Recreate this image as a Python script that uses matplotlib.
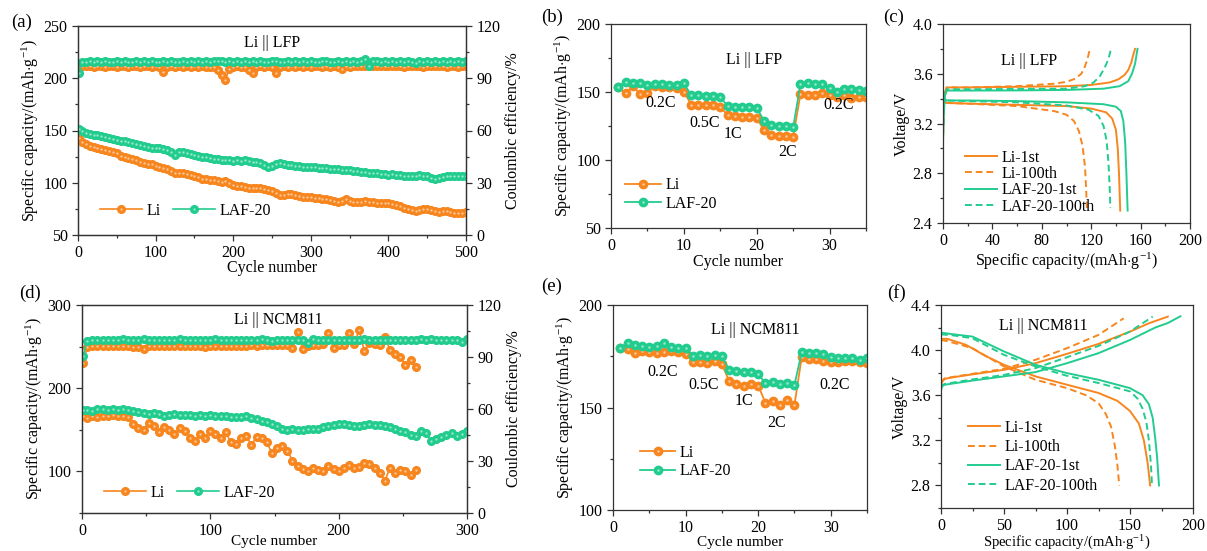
import numpy as np
import matplotlib
matplotlib.use("Agg")
import matplotlib.pyplot as plt
from matplotlib.ticker import MultipleLocator
from matplotlib.legend_handler import HandlerTuple

plt.rcParams['font.family'] = ['Liberation Serif', 'DejaVu Serif']
plt.rcParams['mathtext.fontset'] = 'custom'
plt.rcParams['mathtext.rm'] = 'Liberation Serif'
plt.rcParams['mathtext.it'] = 'Liberation Serif:italic'
plt.rcParams['font.size'] = 11

ORANGE = '#F7861F'
GREEN = '#22CC8F'

# ===== (a) Li || LFP long cycling, every 5 cycles =====
li_cap_a = [143, 139, 137, 135, 134, 133, 132.5, 131, 130, 129, 128, 126, 125, 124, 122.5, 121.5, 120, 119, 118, 117.5, 116,
            115, 114, 113, 111, 109.5, 109, 109, 108, 107, 106, 105.5, 104, 103.5, 103, 102.5, 101.5, 101, 102, 99.5, 98,
            97, 96.5, 95.5, 95, 95, 94.5, 94.5, 94, 93.5, 92, 90, 88, 88.5, 89, 89, 88, 87, 86.5, 86, 86,
            85, 85, 84, 84, 83.5, 83, 82, 83, 84, 83, 82, 81.5, 82, 83, 82, 81.5, 81, 81, 81, 80.5,
            80, 79, 78, 76, 74.5, 73.5, 73, 73.5, 74.5, 75, 74, 73, 72, 72.5, 72.5, 72, 71.5, 71, 71, 72]
laf_cap_a = [151, 149.5, 148, 147, 146, 145.5, 145, 144, 143, 142, 141, 140, 139.5, 139, 138, 137, 136.5, 135, 134, 133.5, 133,
             133, 132.5, 131, 129, 127, 129, 129.5, 128, 127.5, 127, 126, 125, 124.5, 124, 123, 122.5, 122, 122, 121.5, 121,
             121.5, 121, 121.5, 120.5, 120, 119.5, 118.5, 117, 115.5, 116, 117.5, 118.5, 118, 117, 117, 116.5, 116, 115.5, 115.5, 115,
             115, 114.5, 114, 114, 113.5, 113, 113, 112.5, 112.5, 112, 111.5, 111, 110.5, 110, 109, 109.5, 109, 108.5, 108, 107.5,
             108, 107.5, 107, 106.5, 106.5, 106, 106.5, 107, 106.5, 106, 105, 104, 104.5, 105.5, 106, 106, 106, 106.5, 106, 106]
li_ce_a = [96.0,
           96.8, 97.0, 96.9, 96.7, 96.8, 97.0, 96.6, 96.9, 96.8, 96.5, 96.8, 97.0, 96.7, 96.9, 96.8, 96.6, 96.9, 96.8, 96.7, 96.9,
           96.6, 93.5, 96.5, 96.8, 96.7, 96.9, 96.6, 96.8, 96.7, 96.9, 96.5, 96.8, 96.7, 96.6, 96.4, 95.0, 92.0, 89.0, 95.5, 96.6,
           96.8, 96.7, 96.5, 95.0, 93.0, 96.5, 96.8, 96.7, 96.9, 96.6, 93.2, 96.7, 96.9, 96.6, 96.8, 96.7, 96.9, 96.6, 96.8, 96.7,
           96.8, 96.9, 96.6, 96.8, 96.7, 96.9, 96.7, 95.5, 96.8, 96.7, 96.9, 96.8, 97.0, 96.8, 96.9, 97.0, 96.8, 96.9, 97.1, 96.9,
           96.8, 97.0, 96.9, 96.7, 96.8, 97.0, 96.8, 96.9, 96.6, 96.8, 96.9, 97.0, 96.8, 96.9, 96.7, 96.8, 96.9, 96.5, 96.8, 97.2]
laf_ce_a = [92.8,
            99.4, 99.6, 99.8, 99.5, 99.7, 99.6, 99.8, 99.5, 99.6, 99.7, 99.4, 99.8, 99.6, 99.5, 99.7, 99.6, 99.8, 99.5, 99.7, 99.6,
            99.5, 99.7, 99.6, 99.8, 99.4, 99.6, 99.7, 99.5, 99.8, 99.6, 99.7, 99.5, 99.9, 99.6, 99.7, 99.8, 100.1, 99.6, 99.8, 99.5,
            99.7, 99.6, 99.8, 99.5, 99.7, 99.6, 99.8, 99.6, 99.5, 99.7, 99.8, 99.6, 99.5, 99.7, 99.6, 99.8, 99.5, 99.7, 99.6, 99.8,
            99.6, 99.5, 99.7, 99.8, 99.6, 99.5, 99.7, 99.6, 99.8, 99.5, 99.7, 99.6, 99.8, 101.3, 96.8, 99.7, 99.8, 99.6, 99.7, 99.5,
            99.7, 99.6, 99.8, 99.5, 99.7, 99.6, 98.6, 99.8, 99.6, 99.7, 99.5, 99.8, 99.6, 99.7, 99.5, 99.8, 99.6, 99.7, 99.5, 99.9]

# ===== (d) Li || NCM811 long cycling, every 4 cycles =====
li_cap_d = [167, 164, 166, 165, 167, 166, 168, 167, 166, 165,
            157, 152, 150, 158, 155, 147, 153, 150, 145, 152,
            148, 140, 136, 145, 140, 148, 145, 140, 147, 135,
            133, 140, 142, 132, 141, 140, 135, 122, 128, 130,
            125, 113, 106, 103, 101, 104, 102, 100, 106, 103,
            100, 104, 108, 104, 105, 110, 109, 104, 98, 89,
            104, 98, 102, 100, 96, 102]
laf_cap_d = [173.5, 174, 173, 174.5, 175, 174, 175, 174, 174.5, 173.5,
             172.5, 171, 170, 169.5, 170, 169, 167, 168, 169, 168,
             168, 167.5, 167, 168, 167, 167.5, 166.5, 167, 166, 165.5,
             165, 165.5, 166, 164.5, 163, 161, 159, 157, 154, 151,
             150, 151.5, 149.5, 150, 151, 151.5, 151, 153, 155, 156,
             157, 157.5, 156, 155, 154.5, 156, 156.5, 156, 155.5, 155,
             153, 151, 149, 147, 144, 143, 149, 146, 137, 139,
             141, 144, 146, 143, 145, 148]
li_ce_d = [86.5, 96.0, 96.3, 96.5, 96.2, 96.4, 96.1, 96.3, 96.5, 96.2,
           96.0, 95.5, 94.8, 96.3, 96.1, 96.4, 96.2, 96.5, 96.3, 96.1,
           96.4, 96.2, 96.5, 96.3, 96.0, 96.4, 96.2, 96.5, 96.3, 96.1,
           96.4, 96.6, 96.3, 96.8, 96.5, 97.0, 96.8, 97.2, 96.9, 97.1,
           97.0, 95.0, 104.5, 94.5, 96.5, 97.0, 96.8, 97.5, 104.0, 95.0,
           97.2, 96.8, 104.0, 97.5, 105.6, 93.4, 98.0, 97.5, 97.2, 101.5,
           94.0, 91.5, 90.0, 85.5, 88.0, 84.0]
laf_ce_d = [90.7, 99.5, 99.8, 100.0, 99.7, 99.9, 99.6, 99.8, 100.1, 99.7,
            99.9, 99.6, 100.2, 99.8, 99.7, 100.0, 99.6, 99.9, 99.8, 100.1,
            99.7, 99.9, 99.6, 100.0, 99.8, 99.7, 100.1, 99.8, 99.6, 99.9,
            99.8, 100.0, 99.7, 99.9, 99.6, 100.1, 99.8, 99.5, 99.9, 99.7,
            99.8, 99.6, 100.0, 99.7, 98.0, 100.2, 99.8, 99.6, 99.9, 99.7,
            99.9, 99.7, 100.0, 99.8, 99.6, 100.1, 99.8, 99.7, 99.9, 100.0,
            99.8, 99.6, 100.0, 99.7, 99.9, 99.8, 100.1, 99.6, 100.2, 99.8,
            99.7, 100.0, 99.8, 99.6, 98.5, 100.5]

# ===== (b)/(e) rate capability, cycles 1-35 =====
rate_cycles = np.arange(1, 36)
li_rate_b = [153.4, 148.9, 154.3, 148.4, 149.4, 154.3, 153.8, 153.4, 152.6, 150.2,
             140.8, 140.8, 140.3, 140.3, 139.1, 133.0, 132.2, 131.7, 131.3, 131.0,
             121.9, 118.7, 117.8, 117.5, 117.0, 148.4, 147.7, 147.7, 149.4, 147.7,
             146.5, 147.7, 145.3, 146.0, 146.0]
laf_rate_b = [153.8, 157.5, 156.3, 156.3, 155.0, 155.6, 155.8, 155.3, 154.8, 156.3,
              147.7, 147.7, 147.2, 147.0, 146.5, 139.6, 139.1, 139.1, 139.1, 138.6,
              128.8, 125.4, 124.9, 124.9, 123.9, 155.8, 156.3, 155.6, 155.6, 153.1,
              150.2, 151.9, 151.9, 151.4, 150.9]
li_rate_e = [178.9, 178.4, 176.7, 177.6, 177.2, 176.4, 177.2, 177.6, 176.9, 176.1,
             172.4, 172.4, 171.5, 172.8, 171.2, 162.9, 161.3, 160.7, 161.5, 160.7,
             152.4, 153.2, 151.2, 153.7, 151.2, 174.5, 173.5, 173.5, 172.7, 172.4,
             172.1, 172.7, 172.7, 172.1, 171.5]
laf_rate_e = [179.2, 181.6, 180.5, 180.0, 179.7, 180.2, 181.3, 179.3, 178.9, 179.2,
              175.3, 175.6, 175.3, 175.6, 175.1, 168.3, 168.0, 167.5, 167.2, 166.3,
              161.8, 162.3, 161.5, 162.1, 161.0, 176.9, 176.7, 176.7, 176.1, 174.8,
              174.0, 174.3, 174.0, 173.2, 174.3]
rate_labels = ['0.2C', '0.5C', '1C', '2C', '0.2C']
rate_label_x_b = [6.8, 12.9, 16.8, 24.2, 31.2]
rate_label_y_b = [142.0, 127.2, 119.0, 106.0, 140.3]
rate_label_x_e = [6.8, 12.5, 18.1, 22.6, 30.6]
rate_label_y_e = [167.5, 161.0, 153.2, 142.3, 161.0]

# ===== (c) Li || LFP voltage profiles =====
c_curves = {
    'Li-1st': [([0, 0.5, 1.5, 3, 20, 60, 100, 120, 135, 142, 147, 150, 152.5, 154, 155.5],
                [3.08, 3.30, 3.45, 3.49, 3.49, 3.495, 3.50, 3.51, 3.53, 3.555, 3.59, 3.63, 3.69, 3.75, 3.80]),
               ([0, 1, 3, 20, 60, 100, 120, 132, 137, 140, 141.5, 142.5, 143.5],
                [3.45, 3.38, 3.365, 3.36, 3.35, 3.34, 3.32, 3.29, 3.24, 3.15, 3.00, 2.80, 2.50])],
    'Li-100th': [([0, 1, 3, 20, 60, 90, 100, 107, 112, 115, 117, 119],
                  [3.10, 3.40, 3.49, 3.49, 3.50, 3.52, 3.535, 3.56, 3.60, 3.66, 3.72, 3.80]),
                 ([0, 1, 3, 20, 60, 90, 100, 106, 110, 113, 115, 116, 116.5],
                  [3.45, 3.38, 3.365, 3.36, 3.34, 3.30, 3.27, 3.22, 3.14, 3.02, 2.85, 2.65, 2.52])],
    'LAF-20-1st': [([0, 0.5, 1.5, 3, 20, 60, 100, 130, 143, 150, 153, 155.5, 157.5],
                    [3.05, 3.25, 3.42, 3.465, 3.465, 3.466, 3.47, 3.48, 3.50, 3.54, 3.60, 3.68, 3.80]),
                   ([0, 1, 3, 20, 60, 100, 130, 140, 144, 146, 147.5, 148.5, 149.5],
                    [3.45, 3.40, 3.385, 3.385, 3.38, 3.37, 3.355, 3.335, 3.30, 3.22, 3.05, 2.80, 2.50])],
    'LAF-20-100th': [([0, 1, 3, 20, 60, 100, 115, 122, 127, 131, 134, 136],
                      [3.10, 3.40, 3.475, 3.475, 3.478, 3.48, 3.50, 3.53, 3.58, 3.65, 3.72, 3.80]),
                     ([0, 1, 3, 20, 60, 100, 118, 126, 130, 132.5, 134, 135, 135.5],
                      [3.45, 3.40, 3.385, 3.38, 3.37, 3.345, 3.31, 3.26, 3.18, 3.06, 2.88, 2.68, 2.52])],
}

# ===== (f) Li || NCM811 voltage profiles =====
f_curves = {
    'Li-1st': [([0, 1, 3, 10, 25, 50, 75, 100, 125, 150, 165, 180],
                [3.69, 3.72, 3.745, 3.76, 3.785, 3.825, 3.884, 3.967, 4.055, 4.164, 4.238, 4.297]),
               ([0, 5, 20, 35, 50, 75, 100, 125, 140, 150, 157, 161, 164, 166],
                [4.10, 4.10, 4.046, 3.95, 3.87, 3.767, 3.693, 3.62, 3.55, 3.46, 3.35, 3.20, 3.00, 2.80])],
    'Li-100th': [([0, 1, 3, 25, 50, 75, 100, 125, 145],
                  [3.71, 3.73, 3.75, 3.79, 3.834, 3.914, 4.017, 4.135, 4.282]),
                 ([0, 5, 25, 50, 75, 100, 115, 125, 131, 135, 138, 140, 141.5],
                  [4.09, 4.08, 4.017, 3.855, 3.737, 3.663, 3.60, 3.53, 3.43, 3.32, 3.15, 2.98, 2.80])],
    'LAF-20-1st': [([0, 1, 3, 25, 50, 75, 100, 125, 150, 170, 180, 190],
                    [3.65, 3.68, 3.693, 3.73, 3.767, 3.805, 3.884, 3.973, 4.09, 4.20, 4.24, 4.30]),
                   ([0, 10, 25, 50, 75, 100, 125, 150, 160, 165, 168, 170, 171.5, 173],
                    [4.155, 4.14, 4.12, 3.988, 3.87, 3.796, 3.737, 3.663, 3.60, 3.52, 3.40, 3.22, 3.05, 2.80])],
    'LAF-20-100th': [([0, 1, 3, 25, 50, 75, 100, 125, 150, 168],
                      [3.67, 3.69, 3.70, 3.74, 3.78, 3.84, 3.937, 4.037, 4.164, 4.297]),
                     ([0, 10, 25, 50, 75, 100, 125, 150, 156, 160, 163, 165, 166.5, 167.5],
                      [4.14, 4.13, 4.105, 3.958, 3.855, 3.772, 3.708, 3.634, 3.57, 3.48, 3.36, 3.20, 3.00, 2.80])],
}
curve_styles = {'Li-1st': (ORANGE, '-'), 'Li-100th': (ORANGE, '--'),
                'LAF-20-1st': (GREEN, '-'), 'LAF-20-100th': (GREEN, '--')}

CAP_LABEL = r'Specific capacity/(mAh$\cdot$g$^{-1}$)'
W, H = 1207, 551
fig = plt.figure(figsize=(W / 100, H / 100), dpi=100)


def add_ax(left, right, top, bottom):
    return fig.add_axes([left / W, 1 - bottom / H, (right - left) / W, (bottom - top) / H])


def style(ax):
    ax.tick_params(which='both', direction='out', labelsize=11.5, width=0.9, color='#333333')
    ax.tick_params(which='major', length=4)
    ax.tick_params(which='minor', length=2.5)
    for s in ax.spines.values():
        s.set_linewidth(0.9)
        s.set_color('#333333')


def dotted_series(ax, x, y, color, ms, lw, label=None):
    # coloured marker + small white glint, like the shaded spheres in the original
    line, = ax.plot(x, y, color=color, marker='o', markersize=ms, lw=lw, label=label)
    glint, = ax.plot(x, y, ls='none', marker='o', markersize=ms * 0.3, color='white', alpha=0.55, mew=0)
    return (line, glint)


def cycling_panel(ax, li_cap, laf_cap, li_ce, laf_ce, step, xmax, ylim, yticks, ymin_minor, title, title_xy,
                  leg_anchor, xpad, xfs):
    ax2 = ax.twinx()
    x_li = np.arange(len(li_cap)) * step
    x_li[0] = 1
    x_laf = np.arange(len(laf_cap)) * step
    x_laf[0] = 1
    dotted_series(ax2, x_li, li_ce, ORANGE, 5.5, 1.2)
    dotted_series(ax2, x_laf, laf_ce, GREEN, 5.5, 1.2)
    h_li = dotted_series(ax, x_li, li_cap, ORANGE, 5.5, 1.2)
    h_laf = dotted_series(ax, x_laf, laf_cap, GREEN, 5.5, 1.2)
    ax.set_xlim(0, xmax)
    ax.set_ylim(*ylim)
    ax.set_yticks(yticks)
    ax.yaxis.set_minor_locator(MultipleLocator(ymin_minor))
    ax.xaxis.set_major_locator(MultipleLocator(100))
    ax.xaxis.set_minor_locator(MultipleLocator(50))
    ax2.set_ylim(0, 120)
    ax2.yaxis.set_major_locator(MultipleLocator(30))
    ax2.yaxis.set_minor_locator(MultipleLocator(15))
    ax.set_xlabel('Cycle number', labelpad=xpad, fontsize=xfs)
    ax.set_ylabel(CAP_LABEL, labelpad=2, fontsize=11.5)
    ax2.set_ylabel('Coulombic efficiency/%', labelpad=3, fontsize=11.5)
    ax.text(title_xy[0], title_xy[1], title, ha='center', va='center', fontsize=11.5)
    ax.legend([h_li, h_laf], ['Li', 'LAF-20'], handler_map={tuple: HandlerTuple(ndivide=1)},
              loc='lower left', bbox_to_anchor=leg_anchor, ncol=2, frameon=False,
              handlelength=2.6, columnspacing=0.8, handletextpad=0.3, fontsize=11.5)
    style(ax)
    style(ax2)
    ax.set_zorder(ax2.get_zorder() + 1)
    ax.patch.set_visible(False)


def rate_panel(ax, li_rate, laf_rate, ylim, title, title_xy, lx, ly, leg_anchor, xpad, xfs):
    h_li = dotted_series(ax, rate_cycles, li_rate, ORANGE, 6, 1.3)
    h_laf = dotted_series(ax, rate_cycles, laf_rate, GREEN, 6, 1.3)
    for t, x, y in zip(rate_labels, lx, ly):
        ax.text(x, y, t, ha='center', va='center', fontsize=11.5)
    ax.text(title_xy[0], title_xy[1], title, ha='center', va='center', fontsize=11.5)
    ax.set_xlim(0, 35)
    ax.set_ylim(*ylim)
    ax.xaxis.set_major_locator(MultipleLocator(10))
    ax.xaxis.set_minor_locator(MultipleLocator(5))
    ax.yaxis.set_major_locator(MultipleLocator(50))
    ax.yaxis.set_minor_locator(MultipleLocator(25))
    ax.set_xlabel('Cycle number', labelpad=xpad, fontsize=xfs)
    ax.set_ylabel(CAP_LABEL, labelpad=2, fontsize=11.5)
    ax.legend([h_li, h_laf], ['Li', 'LAF-20'], handler_map={tuple: HandlerTuple(ndivide=1)},
              loc='lower left', bbox_to_anchor=leg_anchor, frameon=False, handlelength=2.2,
              handletextpad=0.3, labelspacing=0.15, fontsize=11.5)
    style(ax)


def voltage_panel(ax, curves, xstep, ylim, yticks, title, title_xy, leg_anchor, spacing, xpad, xfs):
    for name, segs in curves.items():
        col, ls = curve_styles[name]
        for i, (x, y) in enumerate(segs):
            ax.plot(x, y, color=col, ls=ls, lw=1.4, label=name if i == 0 else None,
                    dashes=(3.5, 2) if ls == '--' else (None, None))
    ax.text(title_xy[0], title_xy[1], title, ha='center', va='center', fontsize=11.5)
    ax.set_xlim(0, 200)
    ax.set_ylim(*ylim)
    ax.set_yticks(yticks)
    ax.yaxis.set_minor_locator(MultipleLocator(0.2))
    ax.xaxis.set_major_locator(MultipleLocator(xstep))
    ax.xaxis.set_minor_locator(MultipleLocator(xstep / 2))
    ax.set_xlabel(CAP_LABEL, labelpad=xpad, fontsize=xfs)
    ax.set_ylabel('Voltage/V', labelpad=2, fontsize=11.5)
    ax.legend(loc='lower left', bbox_to_anchor=leg_anchor, frameon=False, handlelength=2.0,
              handletextpad=0.3, labelspacing=spacing, fontsize=11.5)
    style(ax)


ax_a = add_ax(78, 466, 26, 235)
cycling_panel(ax_a, li_cap_a, laf_cap_a, li_ce_a, laf_ce_a, 5, 500, (50, 250), [50, 100, 150, 200, 250], 25,
              'Li || LFP', (250, 234), (0.02, 0.01), -1, 11.5)
ax_d = add_ax(82, 467, 305, 513)
cycling_panel(ax_d, li_cap_d, laf_cap_d, li_ce_d, laf_ce_d, 4, 300, (50, 300), [100, 200, 300], 50,
              'Li || NCM811', (153, 282), (0.02, -0.01), -3, 11)

ax_b = add_ax(611, 866, 24, 228)
rate_panel(ax_b, li_rate_b, laf_rate_b, (50, 200), 'Li || LFP', (19.6, 173.5),
           rate_label_x_b, rate_label_y_b, (0.0, 0.01), 0, 11.5)
ax_e = add_ax(613, 867, 305, 510)
rate_panel(ax_e, li_rate_e, laf_rate_e, (100, 200), 'Li || NCM811', (19.6, 187.8),
           rate_label_x_e, rate_label_y_e, (0.05, 0.08), -0.5, 11)

ax_c = add_ax(943, 1190, 24, 223)
voltage_panel(ax_c, c_curves, 40, (2.4, 4.0), [2.4, 2.8, 3.2, 3.6, 4.0], 'Li || LFP', (70, 3.705),
              (0.03, -0.03), 0.02, 1, 11.5)
ax_f = add_ax(941, 1193, 305, 508)
voltage_panel(ax_f, f_curves, 50, (2.6, 4.4), [2.8, 3.2, 3.6, 4.0, 4.4], 'Li || NCM811', (81, 4.21),
              (0.05, 0.0), 0.2, -0.5, 10.5)

for lab, x, y in [('(a)', 22, 22), ('(b)', 552, 17), ('(c)', 894, 17),
                  ('(d)', 30, 293), ('(e)', 552, 286), ('(f)', 897, 293)]:
    fig.text(x / W, 1 - y / H, lab, ha='center', va='center', fontsize=13.5)

fig.savefig('out.png', dpi=100)
